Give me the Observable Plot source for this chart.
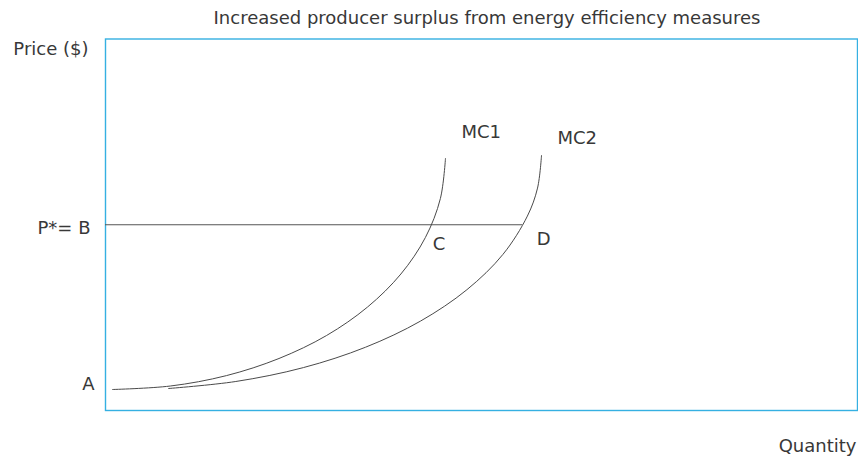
<!DOCTYPE html>
<html><head><meta charset="utf-8">
<script src="https://cdn.jsdelivr.net/npm/d3@7"></script>
<script src="https://cdn.jsdelivr.net/npm/@observablehq/plot@0.6"></script>
<style>body{margin:0;background:#fff;} svg{display:block}</style>
</head><body><div id="chart"></div>
<script>
const titleText = "Increased producer surplus from energy efficiency measures";
const yLabel = "Price ($)";
const xLabel = "Quantity";

const mc1Quantity = [0.93, 8.62, 16.08, 23.07, 29.40, 34.85, 39.28, 42.54, 44.53, 45.21];
const mc1Price    = [5.65, 6.59, 9.39, 14.0, 20.19, 27.86, 36.74, 46.57, 57.04, 67.83];
const mc2Quantity = [8.38, 17.33, 26.32, 34.59, 41.91, 48.06, 52.85, 56.10, 57.45, 57.98];
const mc2Price    = [5.92, 7.81, 11.55, 17.04, 24.09, 32.52, 42.02, 52.33, 59.87, 68.64];

const equilibriumPrice = 50;      // P* = B
const quantityC = 43.4;           // MC1 meets P*
const quantityD = 55.5;           // MC2 meets P*

const mc1 = mc1Quantity.map((q, i) => ({q, p: mc1Price[i]}));
const mc2 = mc2Quantity.map((q, i) => ({q, p: mc2Price[i]}));
const last1 = mc1[mc1.length - 1], last2 = mc2[mc2.length - 1];

const font = {fontFamily: "DejaVu Sans", fontSize: 18, fill: "#383838"};
const curveStyle = {stroke: "#4a4a4a", strokeWidth: 1};

const chart = Plot.plot({
  width: 858, height: 458,
  marginLeft: 105, marginRight: 1, marginTop: 38.5, marginBottom: 48,
  x: {domain: [0, 100], axis: null},
  y: {domain: [0, 100], axis: null},
  style: {background: "#fff", overflow: "visible"},
  marks: [
    Plot.frame({stroke: "#35b0e2", strokeWidth: 1.4}),
    Plot.ruleY([equilibriumPrice], {x1: 0, x2: quantityD, stroke: "#555", strokeWidth: 1}),
    Plot.line(mc1, {x: "q", y: "p", curve: "catmull-rom", ...curveStyle}),
    Plot.line(mc2, {x: "q", y: "p", curve: "catmull-rom", ...curveStyle}),
    Plot.text([titleText], {frameAnchor: "top", text: d => d, dx: 5.5, dy: -28, ...font}),
    Plot.text([yLabel], {frameAnchor: "top-left", text: d => d, textAnchor: "end", dx: -17, dy: 3.5, ...font}),
    Plot.text([xLabel], {frameAnchor: "bottom-right", text: d => d, textAnchor: "end", dx: -1, dy: 41, ...font}),
    Plot.text(["P*= B"], {x: 0, y: equilibriumPrice, text: d => d, textAnchor: "end", dx: -15, dy: 3.6, ...font}),
    Plot.text(["A"], {x: 0, y: mc1Price[0], text: d => d, textAnchor: "end", dx: -11, dy: -5, ...font}),
    Plot.text(["C"], {x: quantityC, y: equilibriumPrice, text: d => d, textAnchor: "start", dx: 1, dy: 19.8, ...font}),
    Plot.text(["D"], {x: quantityD, y: equilibriumPrice, text: d => d, textAnchor: "start", dx: 14, dy: 14.8, ...font}),
    Plot.text(["MC1"], {x: last1.q, y: last1.p, text: d => d, textAnchor: "start", dx: 16, dy: -26.7, ...font}),
    Plot.text(["MC2"], {x: last2.q, y: last2.p, text: d => d, textAnchor: "start", dx: 16, dy: -17.7, ...font})
  ]
});
document.getElementById("chart").append(chart);
</script>
</body></html>
